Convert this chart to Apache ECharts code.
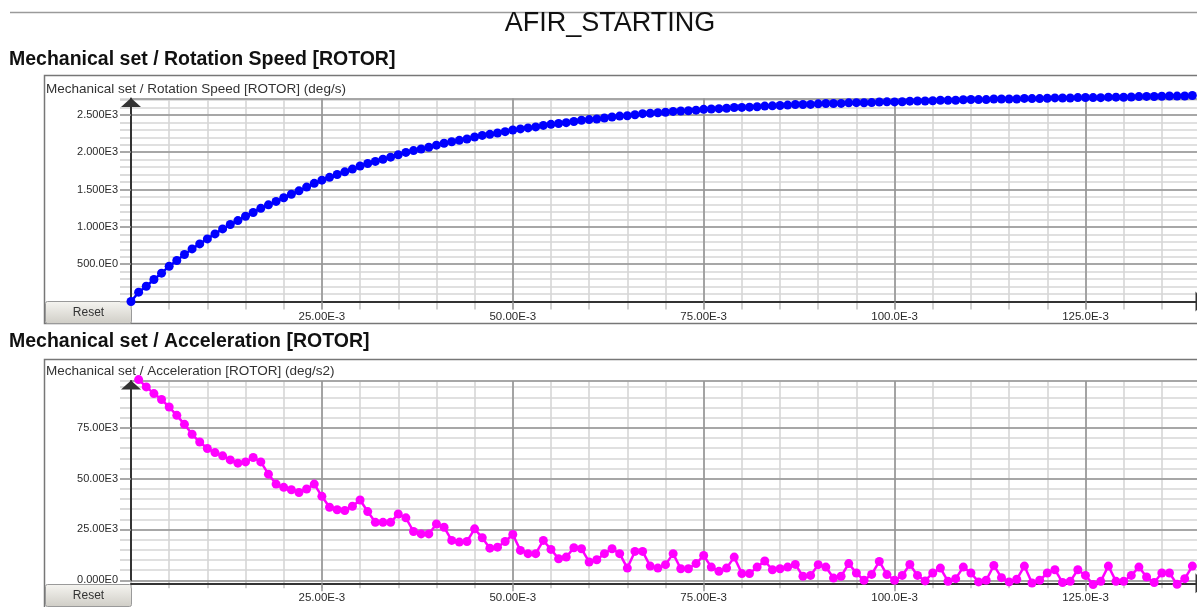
<!DOCTYPE html>
<html>
<head>
<meta charset="utf-8">
<script src="https://cdn.jsdelivr.net/npm/echarts@6/dist/echarts.min.js"></script>
<style>
  html, body { margin: 0; padding: 0; background: #ffffff; }
  #chart { width: 1197px; height: 607px; }
</style>
</head>
<body>
<div id="chart"></div>
<script>
// Sample instants of the AFIR starting run (milliseconds)
const timeMs = [
  0, 1, 2, 3, 4, 5, 6, 7, 8, 9,
  10, 11, 12, 13, 14, 15, 16, 17, 18, 19,
  20, 21, 22, 23, 24, 25, 26, 27, 28, 29,
  30, 31, 32, 33, 34, 35, 36, 37, 38, 39,
  40, 41, 42, 43, 44, 45, 46, 47, 48, 49,
  50, 51, 52, 53, 54, 55, 56, 57, 58, 59,
  60, 61, 62, 63, 64, 65, 66, 67, 68, 69,
  70, 71, 72, 73, 74, 75, 76, 77, 78, 79,
  80, 81, 82, 83, 84, 85, 86, 87, 88, 89,
  90, 91, 92, 93, 94, 95, 96, 97, 98, 99,
  100, 101, 102, 103, 104, 105, 106, 107, 108, 109,
  110, 111, 112, 113, 114, 115, 116, 117, 118, 119,
  120, 121, 122, 123, 124, 125, 126, 127, 128, 129,
  130, 131, 132, 133, 134, 135, 136, 137, 138, 139
];

// Rotor rotation speed (deg/s)
const rotationSpeed = [
  0, 125, 205, 295, 380, 473, 549, 629, 705, 772,
  839, 906, 973, 1031, 1084, 1143, 1193, 1248, 1295, 1341,
  1390, 1437, 1483, 1533, 1583, 1626, 1664, 1701, 1737, 1774,
  1815, 1849, 1877, 1906, 1934, 1967, 1998, 2022, 2044, 2067,
  2095, 2121, 2141, 2159, 2178, 2204, 2225, 2240, 2257, 2276,
  2298, 2313, 2326, 2339, 2359, 2374, 2385, 2396, 2412, 2428,
  2437, 2446, 2458, 2472, 2484, 2489, 2503, 2517, 2523, 2529,
  2535, 2547, 2552, 2556, 2564, 2575, 2580, 2584, 2589, 2599,
  2601, 2604, 2609, 2618, 2622, 2626, 2632, 2639, 2640, 2641,
  2648, 2653, 2653, 2654, 2662, 2664, 2663, 2665, 2673, 2675,
  2674, 2676, 2684, 2687, 2686, 2690, 2696, 2695, 2696, 2703,
  2706, 2705, 2705, 2713, 2714, 2713, 2714, 2721, 2719, 2719,
  2723, 2728, 2727, 2727, 2732, 2734, 2732, 2731, 2738, 2738,
  2737, 2740, 2746, 2748, 2747, 2750, 2754, 2752, 2753, 2760
];

// Rotor acceleration (deg/s2); no sample at t = 0
const acceleration = [
  null, 98700, 95100, 91800, 88900, 85200, 81100, 76700, 71800, 68000,
  64800, 62800, 61200, 59200, 57600, 58200, 60400, 58200, 52200, 47300,
  45700, 44500, 43200, 44900, 47300, 41300, 35900, 34700, 34300, 36400,
  39500, 33800, 28500, 28500, 28500, 32600, 30700, 24000, 22800, 22800,
  27700, 26100, 19600, 18800, 19100, 25300, 20900, 15800, 16300, 19100,
  22500, 14700, 13100, 13100, 19600, 15200, 10600, 11400, 16000, 15500,
  9000, 10100, 13100, 15500, 13100, 6000, 14200, 14200, 7000, 6000,
  7700, 13100, 5700, 5700, 8200, 12200, 6500, 4400, 6000, 11400,
  3300, 3300, 6500, 9500, 5200, 5700, 6500, 7800, 2000, 2400,
  7700, 6500, 1100, 2000, 8200, 3600, 0, 2900, 9300, 2800,
  0, 2400, 7800, 2400, -300, 3600, 6000, -500, 800, 6500,
  3600, -800, 0, 7300, 1300, -800, 500, 7000, -1300, 0,
  3600, 5200, -1100, -500, 5200, 2400, -2100, -500, 7000, -500,
  -500, 2400, 6500, 1600, -1100, 3600, 3600, -2000, 800, 7000
];

// Text shown on the page
const pageTitle = 'AFIR_STARTING';
const speedTitle = 'Mechanical set / Rotation Speed [ROTOR]';
const accelTitle = 'Mechanical set / Acceleration [ROTOR]';
const speedCaption = 'Mechanical set / Rotation Speed [ROTOR] (deg/s)';
const accelCaption = 'Mechanical set / Acceleration [ROTOR] (deg/s2)';
const buttonText = 'Reset';

// Engineering notation with four significant digits, e.g. 2.500E3, 25.00E-3
function eng(v) {
  if (Math.abs(v) < 1e-12) return '0.000E0';
  const exp = Math.floor(Math.log10(Math.abs(v)) / 3 + 1e-9) * 3;
  const mant = v / Math.pow(10, exp);
  const intDigits = Math.floor(Math.log10(Math.abs(mant)) + 1e-9) + 1;
  return mant.toFixed(Math.max(0, 4 - intDigits)) + 'E' + exp;
}

const FONT = 'Liberation Sans, Arial, sans-serif';
const MAJOR_GRID = '#959595';
const MINOR_GRID = '#d6d6d6';
const AXIS_COLOR = '#333333';

const speedPoints = timeMs.map((t, i) => [t, rotationSpeed[i]]);
const accelPoints = timeMs.map((t, i) => [t, acceleration[i]]);

function xAxes(gridIndex, offset) {
  return [
    { // fine 5 ms grid
      type: 'value', gridIndex, position: 'bottom', offset,
      min: 0, max: 140, interval: 5, z: 1,
      axisLine: { show: false },
      axisTick: { show: true, length: 8, lineStyle: { color: '#c4c4c4', width: 1.5 } },
      axisLabel: { show: false },
      splitLine: { show: true, lineStyle: { color: MINOR_GRID, width: 1.6 } }
    },
    { // labelled 25 ms grid
      type: 'value', gridIndex, position: 'bottom', offset,
      min: 0, max: 140, interval: 25, z: 2,
      axisLine: { show: true, onZero: false, lineStyle: { color: AXIS_COLOR, width: 2 },
        symbol: ['none', 'triangle'], symbolSize: [20, 9], symbolOffset: [0, 0] },
      axisTick: { show: true, length: 8, lineStyle: { color: '#999', width: 1.5 } },
      axisLabel: { show: true, showMinLabel: false, showMaxLabel: false, margin: 9,
        fontSize: 11.5, color: '#2a2a2a', fontFamily: FONT,
        formatter: v => eng(v / 1000) },
      splitLine: { show: true, lineStyle: { color: MAJOR_GRID, width: 1.6 } }
    }
  ];
}

function yAxes(gridIndex, max, majorStep, minorStep, showMin) {
  return [
    {
      type: 'value', gridIndex, position: 'left',
      min: 0, max, interval: minorStep, z: 1,
      axisLine: { show: false },
      axisTick: { show: true, length: 11, lineStyle: { color: '#cfcfcf', width: 1.5 } },
      axisLabel: { show: false },
      splitLine: { show: true, lineStyle: { color: MINOR_GRID, width: 1.6 } }
    },
    {
      type: 'value', gridIndex, position: 'left',
      min: 0, max, interval: majorStep, z: 2,
      axisLine: { show: true, onZero: false, lineStyle: { color: AXIS_COLOR, width: 2 },
        symbol: ['none', 'triangle'], symbolSize: [20, 9], symbolOffset: [0, -4] },
      axisTick: { show: true, length: 11, lineStyle: { color: '#999', width: 1.5 } },
      axisLabel: { show: true, showMinLabel: showMin, showMaxLabel: false, margin: 13,
        fontSize: 11, color: '#2a2a2a', fontFamily: FONT, formatter: eng },
      splitLine: { show: true, lineStyle: { color: MAJOR_GRID, width: 1.6 } }
    }
  ];
}

function resetButton(top) {
  return {
    type: 'group', left: 45, top, z: 100,
    children: [
      { type: 'rect', shape: { x: 0, y: 0, width: 86, height: 22, r: 2 },
        style: { fill: new echarts.graphic.LinearGradient(0, 0, 0, 1, [
          { offset: 0, color: '#f6f5f1' }, { offset: 1, color: '#cfcdc6' }]),
          stroke: '#9a9a9a', lineWidth: 1 } },
      { type: 'text', x: 43, y: 11,
        style: { text: buttonText, fill: '#333', font: '12px ' + FONT,
          textAlign: 'center', textVerticalAlign: 'middle' } }
    ]
  };
}

const chart = echarts.init(document.getElementById('chart'), null, { renderer: 'canvas' });

chart.setOption({
  animation: false,
  backgroundColor: '#ffffff',
  grid: [
    { left: 131, top: 98.5, width: 1069, height: 203, outerBoundsMode: 'none', containLabel: false },
    { left: 131, top: 381, width: 1069, height: 199.3, outerBoundsMode: 'none', containLabel: false }
  ],
  xAxis: [...xAxes(0, 0), ...xAxes(1, 3)],
  yAxis: [...yAxes(0, 2720, 500, 100, false), ...yAxes(1, 98000, 25000, 5000, true)],
  graphic: [
    { type: 'line', z: 0, shape: { x1: 10, y1: 12.5, x2: 1197, y2: 12.5 },
      style: { stroke: '#9a9a9a', lineWidth: 1.5 } },
    { type: 'text', x: 610, y: 24, z: 10,
      style: { text: pageTitle, fill: '#111', font: '27px ' + FONT,
        textAlign: 'center', textVerticalAlign: 'middle' } },
    { type: 'text', x: 9, y: 60, z: 10,
      style: { text: speedTitle, fill: '#111', font: 'bold 19.5px ' + FONT,
        textAlign: 'left', textVerticalAlign: 'middle' } },
    { type: 'text', x: 9, y: 342, z: 10,
      style: { text: accelTitle, fill: '#111', font: 'bold 19.5px ' + FONT,
        textAlign: 'left', textVerticalAlign: 'middle' } },
    { type: 'rect', z: -1, shape: { x: 44.5, y: 75.5, width: 1200, height: 248 },
      style: { fill: 'none', stroke: '#777', lineWidth: 1.5 } },
    { type: 'rect', z: -1, shape: { x: 44.5, y: 359.5, width: 1200, height: 300 },
      style: { fill: 'none', stroke: '#777', lineWidth: 1.5 } },
    { type: 'text', x: 46, y: 89, z: 10,
      style: { text: speedCaption, fill: '#333', font: '13.5px ' + FONT,
        textAlign: 'left', textVerticalAlign: 'middle' } },
    { type: 'text', x: 46, y: 371, z: 10,
      style: { text: accelCaption, fill: '#333', font: '13.5px ' + FONT,
        textAlign: 'left', textVerticalAlign: 'middle' } },
    resetButton(301),
    resetButton(584)
  ],
  series: [
    {
      type: 'line', name: 'Rotation Speed', xAxisIndex: 1, yAxisIndex: 1,
      data: speedPoints, clip: false, z: 5,
      symbol: 'circle', symbolSize: 9, showAllSymbol: true,
      itemStyle: { color: '#0000ff' },
      lineStyle: { color: '#0000ff', width: 2.5 }
    },
    {
      type: 'line', name: 'Acceleration', xAxisIndex: 3, yAxisIndex: 3,
      data: accelPoints, clip: false, z: 5, connectNulls: false,
      symbol: 'circle', symbolSize: 9, showAllSymbol: true,
      itemStyle: { color: '#ff00ff' },
      lineStyle: { color: '#ff00ff', width: 2.5 }
    }
  ]
});
</script>
</body>
</html>
